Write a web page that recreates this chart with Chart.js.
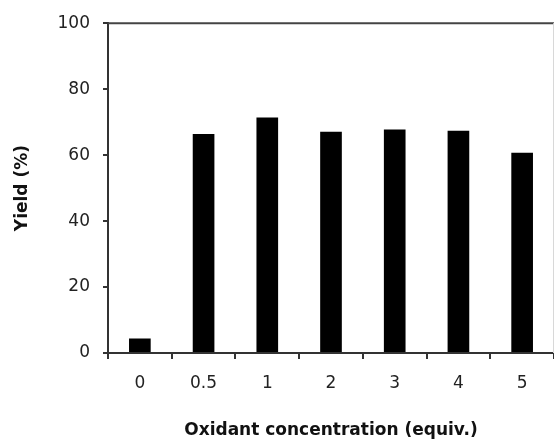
<!DOCTYPE html>
<html>
<head>
<meta charset="utf-8">
<script src="https://cdn.jsdelivr.net/npm/chart.js@4.4.1/dist/chart.umd.min.js"></script>
<style>
  html, body { margin: 0; padding: 0; background: #fff; }
  #wrap { width: 554px; height: 442px; position: relative; }
</style>
</head>
<body>
<div id="wrap"><canvas id="c" width="554" height="442"></canvas></div>
<script>
const categories = ["0", "0.5", "1", "2", "3", "4", "5"];
const yieldValues = [4.4, 66.4, 71.4, 67.1, 67.8, 67.4, 60.7];
const yTicks = [0, 20, 40, 60, 80, 100];
const xTitle = "Oxidant concentration (equiv.)";
const yTitle = "Yield (%)";

const framePlugin = {
  id: 'frame',
  afterDraw(chart) {
    const a = chart.chartArea, ctx = chart.ctx;
    ctx.save();
    ctx.strokeStyle = '#444';
    ctx.lineWidth = 2;
    ctx.beginPath();
    ctx.moveTo(a.left, a.top);
    ctx.lineTo(a.right, a.top);
    ctx.stroke();
    ctx.strokeStyle = '#d8d8d8';
    ctx.lineWidth = 1;
    ctx.beginPath();
    ctx.moveTo(a.right - 0.5, a.top);
    ctx.lineTo(a.right - 0.5, a.bottom);
    ctx.stroke();
    ctx.restore();
  }
};

new Chart(document.getElementById('c'), {
  type: 'bar',
  data: {
    labels: categories,
    datasets: [{
      data: yieldValues,
      backgroundColor: '#000',
      borderWidth: 0,
      categoryPercentage: 1,
      barPercentage: 0.34
    }]
  },
  options: {
    responsive: false,
    animation: false,
    devicePixelRatio: 1,
    layout: { padding: { top: 20, right: 0, left: 0, bottom: 0 } },
    plugins: { legend: { display: false }, tooltip: { enabled: false } },
    scales: {
      x: {
        offset: true,
        grid: { display: true, offset: true, drawOnChartArea: false, drawTicks: true, tickLength: 6, color: '#333', lineWidth: 2 },
        border: { display: true, color: '#333', width: 2 },
        ticks: { color: '#222', padding: 14, font: { family: 'DejaVu Sans', size: 17 }, maxRotation: 0 },
        title: { display: true, text: xTitle, color: '#111', font: { family: 'DejaVu Sans', size: 17, weight: 'bold' }, padding: { top: 0, bottom: 1 } },
        afterFit(scale) { scale.height = 89; }
      },
      y: {
        min: 0, max: 100,
        afterBuildTicks(scale) { scale.ticks = yTicks.map(v => ({ value: v })); },
        grid: { display: true, drawOnChartArea: false, drawTicks: true, tickLength: 5, color: '#333', lineWidth: 2 },
        border: { display: true, color: '#333', width: 2 },
        ticks: { color: '#222', padding: 13, font: { family: 'DejaVu Sans', size: 17 } },
        title: { display: true, text: yTitle, color: '#111', font: { family: 'DejaVu Sans', size: 17, weight: 'bold' }, padding: { top: 12, bottom: 0 } },
        afterFit(scale) { scale.width = 108; }
      }
    }
  },
  plugins: [framePlugin]
});
</script>
</body>
</html>
